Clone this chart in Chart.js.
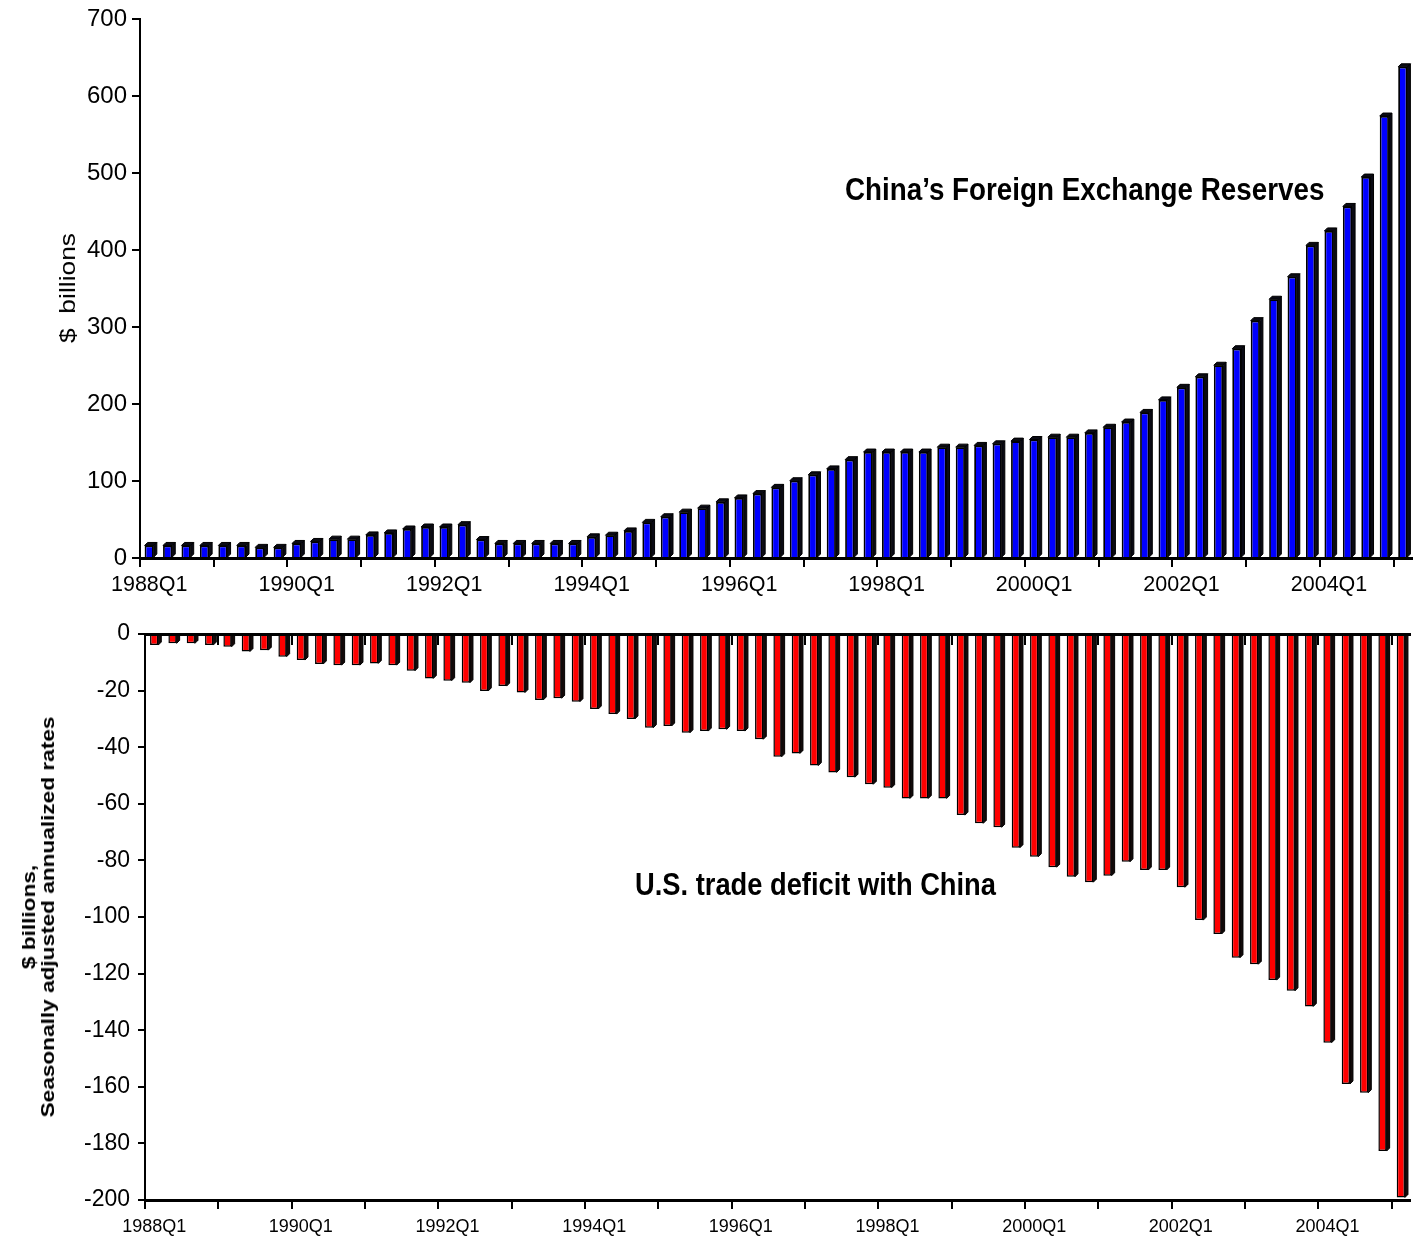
<!DOCTYPE html>
<html><head><meta charset="utf-8">
<script src="https://cdn.jsdelivr.net/npm/chart.js@4.4.0/dist/chart.umd.min.js"></script>
<style>
html,body{margin:0;padding:0;background:#fff;}
#wrap{position:relative;width:1421px;height:1243px;overflow:hidden;font-family:"Liberation Sans",Arial,sans-serif;}
.cw{position:absolute;left:0;width:1421px;}
#c1w{top:0;height:610px;}
#c2w{top:605px;height:638px;}
.note{position:absolute;font-weight:bold;line-height:28px;white-space:nowrap;color:#000;transform:scaleY(1.12);transform-origin:left center;}
.ytitle{position:absolute;white-space:pre;color:#000;text-align:center;transform-origin:center center;}
#t1{left:68px;top:288px;font-size:22px;line-height:24px;transform:translate(-50%,-50%) rotate(-90deg) scaleX(1.2);}
#t2{left:38px;top:917px;font-size:19px;font-weight:bold;line-height:19px;transform:translate(-50%,-50%) rotate(-90deg) scaleX(1.19);}
</style></head>
<body><div id="wrap">
<div class="cw" id="c1w"><canvas id="c1" width="1421" height="610"></canvas></div>
<div class="cw" id="c2w"><canvas id="c2" width="1421" height="638"></canvas></div>
<div class="note" id="n1" style="left:845px;top:176px;font-size:27.8px">China’s Foreign Exchange Reserves</div>
<div class="note" id="n2" style="left:635px;top:871px;font-size:27.3px">U.S. trade deficit with China</div>
<div class="ytitle" id="t1"></div>
<div class="ytitle" id="t2"></div>
</div>
<script>
const quarters = [
 "1988Q1","1988Q2","1988Q3","1988Q4","1989Q1","1989Q2","1989Q3","1989Q4",
 "1990Q1","1990Q2","1990Q3","1990Q4","1991Q1","1991Q2","1991Q3","1991Q4",
 "1992Q1","1992Q2","1992Q3","1992Q4","1993Q1","1993Q2","1993Q3","1993Q4",
 "1994Q1","1994Q2","1994Q3","1994Q4","1995Q1","1995Q2","1995Q3","1995Q4",
 "1996Q1","1996Q2","1996Q3","1996Q4","1997Q1","1997Q2","1997Q3","1997Q4",
 "1998Q1","1998Q2","1998Q3","1998Q4","1999Q1","1999Q2","1999Q3","1999Q4",
 "2000Q1","2000Q2","2000Q3","2000Q4","2001Q1","2001Q2","2001Q3","2001Q4",
 "2002Q1","2002Q2","2002Q3","2002Q4","2003Q1","2003Q2","2003Q3","2003Q4",
 "2004Q1","2004Q2","2004Q3","2004Q4","2005Q1"
];

// China's foreign exchange reserves, $ billions
const reserves = [
 16.3,16.3,16.3,16.3,16.3,16.3,13.8,13.8,
 18.9,21.5,24.5,24.5,30.0,32.6,37.7,40.3,
 40.3,43.3,24.0,18.9,18.9,18.9,18.9,18.9,
 27.5,29.6,35.2,46.3,53.6,59.6,64.8,73.0,
 78.1,83.7,91.8,100.4,108.1,115.8,127.8,137.7,
 137.7,137.7,137.7,144.0,144.1,146.3,148.4,151.9,
 154.0,157.0,157.0,162.6,169.9,176.7,189.2,205.5,
 221.8,235.5,250.5,272.0,308.5,336.3,365.5,406.3,
 425.1,456.9,495.1,574.4,638.4
];

// U.S. trade deficit with China, $ billions SAAR
const deficit = [
 -3.9,-3.3,-3.3,-3.9,-4.5,-6.2,-5.7,-8.0,
 -9.2,-10.6,-11.0,-11.0,-10.4,-11.0,-13.0,-15.7,
 -16.5,-17.2,-20.1,-18.4,-20.7,-23.3,-22.7,-23.9,
 -26.5,-28.3,-30.0,-33.1,-32.5,-34.9,-34.3,-33.7,
 -34.3,-37.2,-43.4,-42.2,-46.5,-48.9,-50.6,-53.1,
 -54.3,-58.1,-58.1,-58.1,-64.0,-66.9,-68.3,-75.5,
 -78.7,-82.4,-85.8,-87.7,-85.4,-80.5,-83.4,-83.4,
 -89.5,-101.1,-106.0,-114.4,-116.7,-122.3,-126.1,-131.6,
 -144.4,-159.0,-162.1,-182.7,-199.1
];

const topTitle = "$  billions";
const bottomTitle = ["$ billions,", "Seasonally adjusted annualized rates"];

document.getElementById('t1').textContent = topTitle;
document.getElementById('t2').textContent = bottomTitle.join('\n');

Chart.defaults.font.family = "'Liberation Sans', Arial, sans-serif";
Chart.defaults.color = "#000";

const bar3d = {
  id: 'bar3d',
  beforeDatasetsDraw(chart, args, opts) {
    const ctx = chart.ctx;
    const d = opts.depth || 3;
    const ca = chart.chartArea;
    ctx.save();
    if (opts.clip) {
      ctx.beginPath();
      ctx.rect(ca.left, ca.top, ca.right - ca.left + 10, ca.bottom - ca.top);
      ctx.clip();
    }
    chart.getDatasetMeta(0).data.forEach(el => {
      const p = el.getProps(['x', 'y', 'base', 'width'], true);
      const left = p.x - p.width / 2, right = p.x + p.width / 2;
      const top = Math.min(p.y, p.base), bottom = Math.max(p.y, p.base);
      ctx.fillStyle = opts.side;
      ctx.strokeStyle = '#000';
      ctx.lineWidth = 1;
      ctx.beginPath();
      ctx.moveTo(right, top); ctx.lineTo(right + d, top - d);
      ctx.lineTo(right + d, bottom - d); ctx.lineTo(right, bottom);
      ctx.closePath(); ctx.fill(); ctx.stroke();
      ctx.beginPath();
      ctx.moveTo(left, top); ctx.lineTo(left + d, top - d);
      ctx.lineTo(right + d, top - d); ctx.lineTo(right, top);
      ctx.closePath(); ctx.fill(); ctx.stroke();
    });
    ctx.restore();
  }
};

const tickColor = c => (c.index !== undefined && c.index % 4 === 0) ? '#000' : 'rgba(0,0,0,0)';

new Chart(document.getElementById('c1'), {
  type: 'bar',
  data: {
    labels: quarters,
    datasets: [{
      data: reserves, xAxisID: 'x',
      backgroundColor: '#0000FF', borderColor: '#000', borderWidth: 1.8,
      barPercentage: 0.5, categoryPercentage: 1.0
    }]
  },
  options: {
    responsive: false, animation: false, devicePixelRatio: 1,
    events: [],
    layout: { padding: { left: 0, right: 9, top: 15, bottom: 0 } },
    plugins: { legend: { display: false }, tooltip: { enabled: false },
      bar3d: { depth: 3, side: '#0a0a14', clip: false } },
    scales: {
      x: {
        type: 'category', offset: true,
        grid: { offset: true, drawOnChartArea: false, drawTicks: true, tickLength: 9, lineWidth: 2, color: tickColor },
        border: { display: true, color: '#000', width: 3, z: 1 },
        ticks: { autoSkip: false, maxRotation: 0, minRotation: 0, padding: 5, font: { size: 21.5 },
          callback: (v, i) => (i % 8 === 0 ? quarters[i] : '') },
        afterFit: s => { s.height = 52; }
      },
      y: {
        min: 0, max: 700,
        ticks: { stepSize: 100, padding: 5, font: { size: 24 } },
        grid: { drawOnChartArea: false, tickLength: 8, color: '#000', lineWidth: 2 },
        border: { display: true, color: '#000', width: 2 },
        afterFit: s => { s.width = 140; }
      }
    }
  },
  plugins: [bar3d]
});

new Chart(document.getElementById('c2'), {
  type: 'bar',
  data: {
    labels: quarters,
    datasets: [{
      data: deficit, xAxisID: 'x',
      backgroundColor: '#FF0000', borderColor: '#000', borderWidth: 1.5,
      barPercentage: 0.45, categoryPercentage: 1.0
    }]
  },
  options: {
    responsive: false, animation: false, devicePixelRatio: 1,
    events: [],
    layout: { padding: { left: 0, right: 11, top: 29, bottom: 0 } },
    plugins: { legend: { display: false }, tooltip: { enabled: false },
      bar3d: { depth: 3, side: '#140a0a', clip: true } },
    scales: {
      x: {
        type: 'category', offset: true,
        grid: { offset: true, drawOnChartArea: false, drawTicks: true, tickLength: 9, lineWidth: 2, color: tickColor },
        border: { display: true, color: '#000', width: 3, z: 1 },
        ticks: { autoSkip: false, maxRotation: 0, minRotation: 0, padding: 7, font: { size: 18 },
          callback: (v, i) => (i % 8 === 0 ? quarters[i] : '') },
        afterFit: s => { s.height = 43; }
      },
      x2: {
        type: 'category', position: { y: 0 }, offset: true,
        grid: { offset: true, drawOnChartArea: false, drawTicks: true, tickLength: 9, lineWidth: 2, color: tickColor },
        border: { display: true, color: '#000', width: 3, z: 1 },
        ticks: { display: false, autoSkip: false, maxRotation: 0, minRotation: 0 }
      },
      y: {
        min: -200, max: 0,
        ticks: { stepSize: 20, padding: 8, font: { size: 23 } },
        grid: { drawOnChartArea: false, tickLength: 7, color: '#000', lineWidth: 2 },
        border: { display: true, color: '#000', width: 2 },
        afterFit: s => { s.width = 145; }
      }
    }
  },
  plugins: [bar3d]
});
</script>
</body></html>
